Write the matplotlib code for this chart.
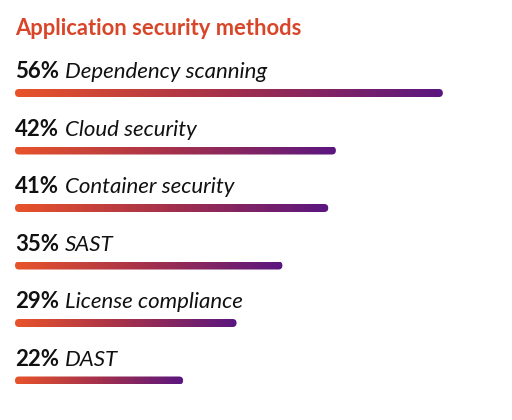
import matplotlib
matplotlib.use('Agg')
import matplotlib.pyplot as plt
import numpy as np
from matplotlib.colors import LinearSegmentedColormap
from matplotlib.patches import FancyBboxPatch

title = 'Application security methods'
methods = ['Dependency scanning', 'Cloud security', 'Container security',
           'SAST', 'License compliance', 'DAST']
shares = [56, 42, 41, 35, 29, 22]

orange = '#e8532a'
purple = '#5a1680'
title_color = '#d8462a'
grad = LinearSegmentedColormap.from_list('op', [orange, '#a3304c', purple])

W, H = 512, 420
px_x = 7.64    # pixels per percent
px_y = 57.5    # pixels per row
x0_px, y0_px = 15, 93

fig = plt.figure(figsize=(W / 100, H / 100), dpi=100)
ax = fig.add_axes([0, 0, 1, 1])
ax.set_xlim(-x0_px / px_x, (W - x0_px) / px_x)
ax.set_ylim((H - y0_px) / px_y, -y0_px / px_y)
ax.axis('off')

bar_h = 8 / px_y
fam = ['Lato', 'DejaVu Sans']
for i, (m, v) in enumerate(zip(methods, shares)):
    patch = FancyBboxPatch((0, i - bar_h / 2), v, bar_h,
                           boxstyle='round,pad=0,rounding_size=%f' % (4 / px_x),
                           mutation_aspect=px_x / px_y,
                           facecolor='none', edgecolor='none')
    ax.add_patch(patch)
    im = ax.imshow(np.linspace(0, 1, 256).reshape(1, -1), cmap=grad,
                   extent=[0, v, i + bar_h / 2, i - bar_h / 2],
                   aspect='auto', interpolation='bilinear')
    im.set_clip_path(patch)
    t = ax.text(0, i - 15 / px_y, '%d%%' % v, fontsize=16, fontweight='bold',
                family=fam, color='#111111', va='baseline', ha='left')
    ax.annotate(m, xy=(1, 0), xycoords=t, xytext=(4, 0),
                textcoords='offset points', fontsize=16, style='italic',
                family=fam, color='#111111', va='bottom', ha='left')

ax.text(0, -(y0_px - 34.5) / px_y, title, fontsize=15.8, fontweight='bold',
        family=fam, color=title_color, va='baseline', ha='left')

ax.set_xlim(-x0_px / px_x, (W - x0_px) / px_x)
ax.set_ylim((H - y0_px) / px_y, -y0_px / px_y)
fig.savefig('out.png', dpi=100)
